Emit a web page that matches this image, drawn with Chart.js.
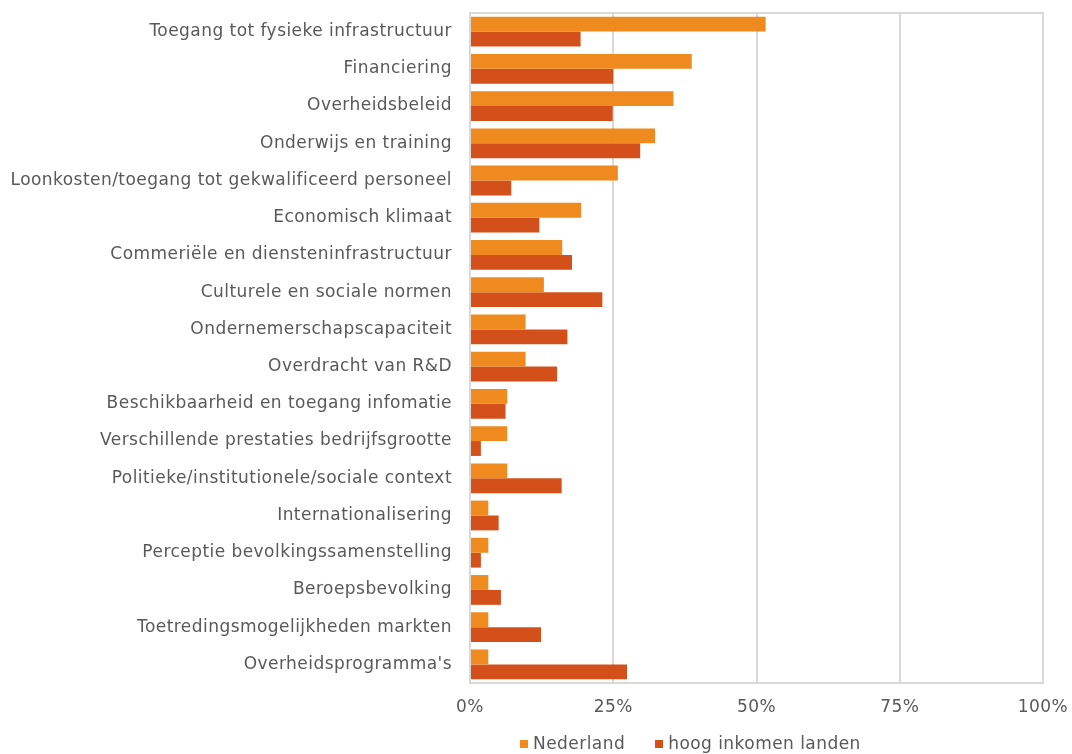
<!DOCTYPE html>
<html>
<head>
<meta charset="utf-8">
<script src="https://cdn.jsdelivr.net/npm/chart.js@4"></script>
<style>
  body { margin: 0; background: #fff; }
  #wrap { position: relative; width: 1072px; height: 754px; }
  #legend { position: absolute; left: 520px; top: 733px; font-family: "DejaVu Sans"; font-size: 17px; letter-spacing: 0.45px; color: #595959; white-space: nowrap; line-height: 20px; }
  #legend span.box { display: inline-block; width: 8px; height: 8px; margin-right: 5px; vertical-align: 1px; }
  #legend span.item { margin-right: 30px; }
</style>
</head>
<body>
<div id="wrap">
  <canvas id="myChart" width="1072" height="754"></canvas>
  <div id="legend"></div>
</div>
<script>
let categories = [
  "Toegang tot fysieke infrastructuur",
  "Financiering",
  "Overheidsbeleid",
  "Onderwijs en training",
  "Loonkosten/toegang tot gekwalificeerd personeel",
  "Economisch klimaat",
  "Commeriële en diensteninfrastructuur",
  "Culturele en sociale normen",
  "Ondernemerschapscapaciteit",
  "Overdracht van R&D",
  "Beschikbaarheid en toegang infomatie",
  "Verschillende prestaties bedrijfsgrootte",
  "Politieke/institutionele/sociale context",
  "Internationalisering",
  "Perceptie bevolkingssamenstelling",
  "Beroepsbevolking",
  "Toetredingsmogelijkheden markten",
  "Overheidsprogramma's"
];

let nederland = [51.6, 38.7, 35.5, 32.3, 25.8, 19.4, 16.1, 12.9, 9.7, 9.7, 6.5, 6.5, 6.5, 3.2, 3.2, 3.2, 3.2, 3.2];
let hoogInkomen = [19.3, 25.0, 24.9, 29.7, 7.2, 12.1, 17.8, 23.1, 17.0, 15.2, 6.2, 1.9, 16.0, 5.0, 1.9, 5.4, 12.4, 27.4];

let xTicks = [0, 25, 50, 75, 100];

let seriesNames = ["Nederland", "hoog inkomen landen"];
let seriesColors = ["#EF8A1F", "#D4501A"];

let textColor = "#595959";
let gridColor = "#D9D9D9";
let fontFamily = "DejaVu Sans";

// wider letters, like the Verdana of the original
let spacing = {
  id: "spacing",
  beforeInit(chart) { chart.ctx.letterSpacing = "0.45px"; },
  beforeDraw(chart) { chart.ctx.letterSpacing = "0.45px"; }
};

// border round the plot area
let plotBorder = {
  id: "plotBorder",
  afterDatasetsDraw(chart) {
    let a = chart.chartArea;
    let ctx = chart.ctx;
    ctx.save();
    ctx.strokeStyle = gridColor;
    ctx.lineWidth = 2;
    ctx.strokeRect(a.left, a.top, a.right - a.left, a.bottom - a.top);
    ctx.restore();
  }
};

function noPadding(scale) {
  scale.paddingTop = 0;
  scale.paddingBottom = 0;
  scale.paddingLeft = 0;
  scale.paddingRight = 0;
}

new Chart("myChart", {
  type: "bar",
  data: {
    labels: categories,
    datasets: [
      { label: seriesNames[0], data: nederland, backgroundColor: seriesColors[0], categoryPercentage: 0.8, barPercentage: 1.0 },
      { label: seriesNames[1], data: hoogInkomen, backgroundColor: seriesColors[1], categoryPercentage: 0.8, barPercentage: 1.0 }
    ]
  },
  options: {
    indexAxis: "y",
    responsive: false,
    animation: false,
    layout: { padding: { left: 12, right: 29, top: 13, bottom: 31 } },
    plugins: {
      legend: { display: false },
      tooltip: { enabled: false }
    },
    scales: {
      x: {
        min: 0,
        max: 100,
        afterBuildTicks(scale) { scale.ticks = xTicks.map(v => ({ value: v })); },
        afterFit(scale) { noPadding(scale); scale.height = 40; },
        ticks: {
          color: textColor,
          font: { family: fontFamily, size: 17 },
          padding: 14,
          callback: v => v + "%"
        },
        grid: { color: gridColor, lineWidth: 2, drawTicks: false },
        border: { display: false }
      },
      y: {
        afterFit(scale) { noPadding(scale); scale.width = 458; },
        ticks: {
          color: textColor,
          font: { family: fontFamily, size: 17 },
          padding: 18,
          autoSkip: false
        },
        grid: { display: false, drawTicks: false },
        border: { display: false }
      }
    }
  },
  plugins: [spacing, plotBorder]
});

let legend = document.getElementById("legend");
seriesNames.forEach((name, i) => {
  let item = document.createElement("span");
  item.className = "item";
  item.innerHTML = `<span class="box" style="background:${seriesColors[i]}"></span>${name}`;
  legend.appendChild(item);
});
</script>
</body>
</html>
